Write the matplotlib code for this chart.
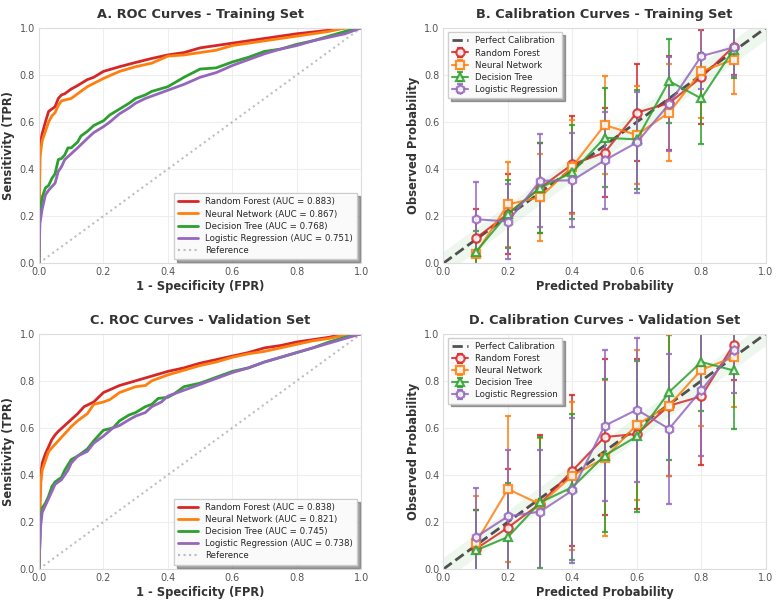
import numpy as np
import matplotlib
matplotlib.use("Agg")
import matplotlib.pyplot as plt
import seaborn as sns

# --- Models ---
MODELS = ["Random Forest", "Neural Network", "Decision Tree", "Logistic Regression"]
COLORS = ["#d62728", "#ff7f0e", "#2ca02c", "#9467bd"]
MARKERS = ["o", "s", "^", "h"]
AUC_TRAIN = [0.883, 0.867, 0.768, 0.751]
AUC_VAL = [0.838, 0.821, 0.745, 0.738]

# --- ROC curves, training set (fpr, tpr) ---
rf_train_fpr = [0, 0.003, 0.01, 0.02, 0.03, 0.05, 0.06, 0.07, 0.08, 0.09, 0.1, 0.12, 0.15, 0.17, 0.2,
                0.25, 0.3, 0.35, 0.4, 0.45, 0.5, 0.55, 0.6, 0.7, 0.8, 0.9, 0.95, 1.0]
rf_train_tpr = [0, 0.5, 0.55, 0.6, 0.645, 0.665, 0.7, 0.715, 0.72, 0.73, 0.74, 0.755, 0.78, 0.79, 0.815,
                0.835, 0.853, 0.87, 0.885, 0.895, 0.915, 0.925, 0.935, 0.955, 0.975, 0.99, 1.0, 1.0]
nn_train_fpr = [0, 0.003, 0.01, 0.02, 0.03, 0.04, 0.05, 0.06, 0.07, 0.1, 0.12, 0.15, 0.2, 0.25, 0.3,
                0.35, 0.4, 0.45, 0.5, 0.55, 0.6, 0.7, 0.8, 0.9, 0.95, 1.0]
nn_train_tpr = [0, 0.45, 0.52, 0.56, 0.6, 0.625, 0.64, 0.67, 0.69, 0.7, 0.72, 0.75, 0.785, 0.815, 0.835,
                0.85, 0.88, 0.885, 0.895, 0.905, 0.925, 0.945, 0.965, 0.985, 1.0, 1.0]
dt_train_fpr = [0, 0.003, 0.01, 0.02, 0.03, 0.04, 0.05, 0.06, 0.07, 0.08, 0.09, 0.1, 0.12, 0.13, 0.15,
                0.17, 0.2, 0.22, 0.25, 0.28, 0.3, 0.33, 0.35, 0.4, 0.45, 0.5, 0.55, 0.6, 0.65, 0.7,
                0.75, 0.8, 0.85, 0.9, 0.95, 1.0]
dt_train_tpr = [0, 0.22, 0.28, 0.32, 0.33, 0.36, 0.38, 0.44, 0.445, 0.46, 0.49, 0.49, 0.515, 0.54, 0.56,
                0.585, 0.605, 0.63, 0.655, 0.68, 0.7, 0.715, 0.73, 0.75, 0.79, 0.825, 0.83, 0.855, 0.875, 0.9,
                0.91, 0.93, 0.945, 0.965, 0.985, 1.0]
lr_train_fpr = [0, 0.003, 0.01, 0.02, 0.03, 0.05, 0.06, 0.07, 0.08, 0.1, 0.12, 0.15, 0.17, 0.2, 0.22,
                0.25, 0.28, 0.3, 0.33, 0.35, 0.4, 0.45, 0.5, 0.55, 0.6, 0.65, 0.7, 0.75, 0.8, 0.85,
                0.9, 0.95, 0.98, 1.0]
lr_train_tpr = [0, 0.17, 0.23, 0.29, 0.31, 0.34, 0.39, 0.41, 0.44, 0.465, 0.49, 0.53, 0.555, 0.58, 0.6,
                0.635, 0.66, 0.68, 0.7, 0.71, 0.735, 0.76, 0.79, 0.81, 0.84, 0.865, 0.89, 0.91, 0.925, 0.945,
                0.96, 0.975, 0.99, 1.0]

# --- ROC curves, validation set ---
rf_val_fpr = [0, 0.003, 0.006, 0.01, 0.02, 0.03, 0.04, 0.05, 0.06, 0.08, 0.1, 0.12, 0.14, 0.17, 0.2,
              0.25, 0.3, 0.35, 0.4, 0.45, 0.5, 0.55, 0.6, 0.65, 0.7, 0.75, 0.8, 0.85, 0.9, 0.95, 1.0]
rf_val_tpr = [0, 0.3, 0.4, 0.45, 0.49, 0.52, 0.55, 0.57, 0.585, 0.61, 0.635, 0.66, 0.69, 0.71, 0.75,
              0.78, 0.8, 0.82, 0.84, 0.855, 0.875, 0.89, 0.905, 0.92, 0.94, 0.95, 0.965, 0.975, 0.985, 1.0, 1.0]
nn_val_fpr = [0, 0.003, 0.006, 0.01, 0.02, 0.03, 0.05, 0.07, 0.1, 0.12, 0.15, 0.17, 0.2, 0.22, 0.25,
              0.3, 0.33, 0.35, 0.4, 0.45, 0.5, 0.55, 0.6, 0.65, 0.7, 0.75, 0.8, 0.85, 0.9, 0.95, 1.0]
nn_val_tpr = [0, 0.25, 0.37, 0.42, 0.46, 0.5, 0.53, 0.56, 0.605, 0.63, 0.66, 0.7, 0.71, 0.72, 0.75,
              0.775, 0.78, 0.8, 0.825, 0.845, 0.865, 0.88, 0.9, 0.915, 0.925, 0.94, 0.955, 0.97, 0.98, 0.995, 1.0]
dt_val_fpr = [0, 0.005, 0.01, 0.02, 0.03, 0.04, 0.05, 0.07, 0.08, 0.1, 0.12, 0.15, 0.17, 0.2, 0.23,
              0.25, 0.28, 0.3, 0.33, 0.35, 0.37, 0.4, 0.42, 0.45, 0.5, 0.55, 0.6, 0.65, 0.7, 0.75,
              0.8, 0.85, 0.9, 0.95, 1.0]
dt_val_tpr = [0, 0.2, 0.26, 0.28, 0.31, 0.35, 0.37, 0.39, 0.42, 0.465, 0.48, 0.51, 0.545, 0.59, 0.6,
              0.63, 0.655, 0.665, 0.69, 0.7, 0.725, 0.73, 0.745, 0.775, 0.79, 0.815, 0.84, 0.855, 0.88, 0.9,
              0.92, 0.94, 0.965, 0.985, 1.0]
lr_val_fpr = [0, 0.005, 0.01, 0.02, 0.03, 0.05, 0.07, 0.09, 0.1, 0.12, 0.15, 0.17, 0.2, 0.23, 0.25,
              0.28, 0.3, 0.33, 0.35, 0.38, 0.4, 0.45, 0.5, 0.55, 0.6, 0.65, 0.7, 0.75, 0.8, 0.85,
              0.9, 0.95, 1.0]
lr_val_tpr = [0, 0.18, 0.24, 0.27, 0.3, 0.36, 0.38, 0.42, 0.45, 0.48, 0.5, 0.535, 0.565, 0.6, 0.61,
              0.635, 0.65, 0.665, 0.69, 0.71, 0.735, 0.76, 0.785, 0.81, 0.835, 0.855, 0.88, 0.9, 0.92, 0.94,
              0.96, 0.98, 1.0]

# --- Calibration (bin centres, observed fraction, error) ---
bins = [0.1, 0.2, 0.3, 0.4, 0.5, 0.6, 0.7, 0.8, 0.9]

rf_cal_train = [0.105, 0.21, 0.32, 0.42, 0.47, 0.64, 0.68, 0.79, 0.92]
nn_cal_train = [0.04, 0.25, 0.28, 0.41, 0.587, 0.545, 0.64, 0.815, 0.865]
dt_cal_train = [0.047, 0.21, 0.32, 0.386, 0.533, 0.526, 0.774, 0.70, 0.908]
lr_cal_train = [0.187, 0.177, 0.35, 0.352, 0.437, 0.513, 0.676, 0.88, 0.917]
rf_err_train = [0.125, 0.17, 0.19, 0.205, 0.19, 0.205, 0.2, 0.2, 0.12]
nn_err_train = [0.05, 0.18, 0.185, 0.2, 0.21, 0.21, 0.205, 0.2, 0.145]
dt_err_train = [0.09, 0.145, 0.19, 0.2, 0.21, 0.21, 0.18, 0.195, 0.12]
lr_err_train = [0.16, 0.16, 0.197, 0.2, 0.206, 0.215, 0.2, 0.14, 0.12]

rf_cal_val = [0.085, 0.176, 0.278, 0.418, 0.561, 0.574, 0.694, 0.734, 0.953]
nn_cal_val = [0.11, 0.34, 0.275, 0.397, 0.472, 0.613, 0.695, 0.847, 0.9]
dt_cal_val = [0.079, 0.136, 0.283, 0.348, 0.482, 0.564, 0.752, 0.88, 0.844]
lr_cal_val = [0.135, 0.224, 0.244, 0.334, 0.609, 0.677, 0.596, 0.76, 0.929]
rf_err_val = [0.165, 0.25, 0.29, 0.32, 0.33, 0.32, 0.3, 0.29, 0.15]
nn_err_val = [0.2, 0.31, 0.28, 0.315, 0.33, 0.32, 0.3, 0.24, 0.21]
dt_err_val = [0.17, 0.23, 0.28, 0.31, 0.325, 0.32, 0.29, 0.21, 0.25]
lr_err_val = [0.21, 0.28, 0.26, 0.31, 0.32, 0.305, 0.32, 0.28, 0.18]

roc_train = [(rf_train_fpr, rf_train_tpr), (nn_train_fpr, nn_train_tpr),
             (dt_train_fpr, dt_train_tpr), (lr_train_fpr, lr_train_tpr)]
roc_val = [(rf_val_fpr, rf_val_tpr), (nn_val_fpr, nn_val_tpr),
           (dt_val_fpr, dt_val_tpr), (lr_val_fpr, lr_val_tpr)]
cal_train = [(rf_cal_train, rf_err_train), (nn_cal_train, nn_err_train),
             (dt_cal_train, dt_err_train), (lr_cal_train, lr_err_train)]
cal_val = [(rf_cal_val, rf_err_val), (nn_cal_val, nn_err_val),
           (dt_cal_val, dt_err_val), (lr_cal_val, lr_err_val)]

sns.set_style("whitegrid")
plt.rcParams['font.family'] = ['DejaVu Sans']
plt.rcParams['axes.edgecolor'] = '#dddddd'
plt.rcParams['grid.color'] = '#eeeeee'
plt.rcParams['xtick.color'] = '#555555'
plt.rcParams['ytick.color'] = '#555555'
plt.rcParams['xtick.labelsize'] = 7
plt.rcParams['ytick.labelsize'] = 7


def style_axes(ax, title, xlabel, ylabel):
    ax.set_xlim(0, 1)
    ax.set_ylim(0, 1)
    ax.set_xticks(np.arange(0, 1.01, 0.2))
    ax.set_yticks(np.arange(0, 1.01, 0.2))
    ax.set_title(title, fontsize=9.3, fontweight='bold', color='#333333', pad=7)
    ax.set_xlabel(xlabel, fontsize=8.3, fontweight='bold', color='#333333', labelpad=2)
    ax.set_ylabel(ylabel, fontsize=8.3, fontweight='bold', color='#333333', labelpad=3)
    ax.tick_params(length=0, pad=3)


def plot_roc(ax, curves, aucs, title):
    for (fpr, tpr), name, col, auc in zip(curves, MODELS, COLORS, aucs):
        ax.plot(fpr, tpr, color=col, lw=2, label=f"{name} (AUC = {auc:.3f})")
    ax.plot([0, 1], [0, 1], ':', color='gray', alpha=0.5, lw=1.5, label='Reference')
    style_axes(ax, title, "1 - Specificity (FPR)", "Sensitivity (TPR)")
    ax.legend(loc='lower right', fontsize=6.2, frameon=True, fancybox=False, shadow=True,
              framealpha=0.95, edgecolor='#cccccc', borderpad=0.5, handlelength=2.3,
              labelspacing=0.35)


def plot_cal(ax, data, title):
    xs = np.linspace(0, 1, 50)
    ax.fill_between(xs, xs - 0.05, xs + 0.05, color='#2ca02c', alpha=0.08, lw=0)
    ax.plot([0, 1], [0, 1], '--', color='#333333', alpha=0.85, lw=2, label='Perfect Calibration')
    for (obs, err), name, col, mk in zip(data, MODELS, COLORS, MARKERS):
        ax.errorbar(bins, obs, yerr=err, color=col, marker=mk, ms=6, mfc='white', mec=col, mew=1.6,
                    lw=1.5, elinewidth=1.3, capsize=2.5, capthick=1.3, alpha=0.85, label=name)
    style_axes(ax, title, "Predicted Probability", "Observed Probability")
    ax.legend(loc='upper left', fontsize=6.2, frameon=True, fancybox=False, shadow=True,
              framealpha=0.95, edgecolor='#cccccc', borderpad=0.5, handlelength=1.9,
              labelspacing=0.35)


fig, axes = plt.subplots(2, 2, figsize=(7.79, 6.06), dpi=100)
fig.subplots_adjust(left=0.05, right=0.983, top=0.954, bottom=0.061, wspace=0.255, hspace=0.30)

plot_roc(axes[0, 0], roc_train, AUC_TRAIN, "A. ROC Curves - Training Set")
plot_cal(axes[0, 1], cal_train, "B. Calibration Curves - Training Set")
plot_roc(axes[1, 0], roc_val, AUC_VAL, "C. ROC Curves - Validation Set")
plot_cal(axes[1, 1], cal_val, "D. Calibration Curves - Validation Set")

fig.savefig("out.png", dpi=100)
